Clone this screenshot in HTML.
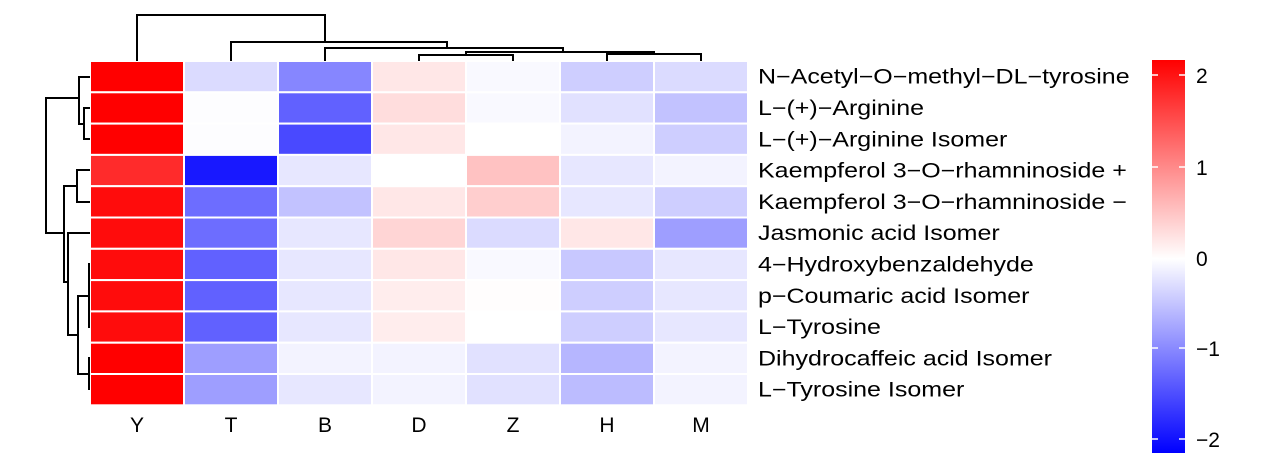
<!DOCTYPE html>
<html><head><meta charset="utf-8"><style>
html,body{margin:0;padding:0;background:#fff;}
svg text{font-family:"Liberation Sans",Arial,sans-serif;fill:#000;}
</style></head><body>
<svg id="s" width="1264" height="469" xmlns="http://www.w3.org/2000/svg">
<defs><linearGradient id="g" x1="0" y1="0" x2="0" y2="1">
<stop offset="0" stop-color="#ff0000"/><stop offset="0.506" stop-color="#ffffff"/><stop offset="1" stop-color="#0000ff"/>
</linearGradient></defs>
<g id="cells"></g>
<g stroke="#000" stroke-width="2" fill="none">
<polyline points="137,61 137,15 325,15 325,42"/>
<polyline points="231,61 231,42 447,42 447,48"/>
<polyline points="325,61 325,48 563,48 563,52"/>
<polyline points="419,61 419,55 513,55 513,61"/>
<polyline points="607,61 607,54 701,54 701,61"/>
<polyline points="466,55 466,52 654,52 654,54"/>
<polyline points="90,77 79,77 79,124 84,124"/>
<polyline points="90,108 84,108 84,139 90,139"/>
<polyline points="79,98 46,98 46,233 64,233"/>
<polyline points="90,170 77,170 77,202 90,202"/>
<polyline points="77,186 64,186 64,282 68,282"/>
<polyline points="90,233 68,233 68,335 78,335"/>
<polyline points="90,264 89,264 89,327 90,327"/>
<polyline points="89,296 78,296 78,374 89,374"/>
<polyline points="90,358 89,358 89,389 90,389"/>
</g>
<g font-size="21" id="rl"></g>
<g font-size="21" text-anchor="middle">
<text x="137" y="432">Y</text><text x="231" y="432">T</text><text x="325" y="432">B</text><text x="419" y="432">D</text><text x="513" y="432">Z</text><text x="607" y="432">H</text><text x="701" y="432">M</text>
</g>
<rect x="1152" y="60" width="33" height="393" fill="url(#g)"/>
<g stroke="#fff" stroke-width="1.5">
<line x1="1152" y1="75" x2="1158" y2="75"/><line x1="1179" y1="75" x2="1185" y2="75"/>
<line x1="1152" y1="167" x2="1158" y2="167"/><line x1="1179" y1="167" x2="1185" y2="167"/>
<line x1="1152" y1="258" x2="1158" y2="258"/><line x1="1179" y1="258" x2="1185" y2="258"/>
<line x1="1152" y1="348" x2="1158" y2="348"/><line x1="1179" y1="348" x2="1185" y2="348"/>
<line x1="1152" y1="439" x2="1158" y2="439"/><line x1="1179" y1="439" x2="1185" y2="439"/>
</g>
<g font-size="21">
<text x="1196" y="83">2</text><text x="1196" y="175">1</text><text x="1196" y="266">0</text>
<text x="1196" y="356">−1</text><text x="1196" y="447">−2</text>
</g>
</svg>
<script>
var V=[[2.1,-.3,-1,.2,-.05,-.4,-.3],[2.1,-.02,-1.3,.28,-.05,-.25,-.5],[2.1,-.02,-1.5,.2,0,-.1,-.4],
[1.75,-1.9,-.2,0,.5,-.2,-.1],[2.0,-1.2,-.5,.2,.4,-.2,-.4],[2.0,-1.2,-.2,.35,-.3,.2,-.8],
[2.0,-1.3,-.2,.2,-.05,-.45,-.2],[2.0,-1.3,-.2,.15,.02,-.4,-.2],[2.0,-1.3,-.2,.15,0,-.4,-.2],
[2.1,-.8,-.1,-.1,-.25,-.6,-.1],[2.1,-.8,-.2,-.1,-.25,-.55,-.1]];
var L=["N−Acetyl−O−methyl−DL−tyrosine","L−(+)−Arginine","L−(+)−Arginine Isomer","Kaempferol 3−O−rhamninoside +","Kaempferol 3−O−rhamninoside −","Jasmonic acid Isomer","4−Hydroxybenzaldehyde","p−Coumaric acid Isomer","L−Tyrosine","Dihydrocaffeic acid Isomer","L−Tyrosine Isomer"];
var g=document.getElementById('cells'),rl=document.getElementById('rl'),ns="http://www.w3.org/2000/svg";
var x0=90,y0=61,cw=94,ch=31.3;
for(var r=0;r<11;r++){for(var c=0;c<7;c++){var v=V[r][c],R,G,B;
if(v>=0){var f=Math.max(0,1-v/2.1);R=255;G=B=Math.round(255*f);}else{var f=Math.max(0,1+v/2.1);R=G=Math.round(255*f);B=255;}
var e=document.createElementNS(ns,'rect');e.setAttribute('x',x0+c*cw);e.setAttribute('y',y0+r*ch);e.setAttribute('width',cw);e.setAttribute('height',ch);
e.setAttribute('fill','rgb('+R+','+G+','+B+')');e.setAttribute('stroke','#fff');e.setAttribute('stroke-width','2');g.appendChild(e);}
var t=document.createElementNS(ns,'text');t.setAttribute('x',758);t.setAttribute('y',y0+r*ch+ch/2+7);t.textContent=L[r];rl.appendChild(t);
var w=t.getComputedTextLength();t.setAttribute('textLength',(w*1.19).toFixed(1));t.setAttribute('lengthAdjust','spacingAndGlyphs');}
</script>
</body></html>
